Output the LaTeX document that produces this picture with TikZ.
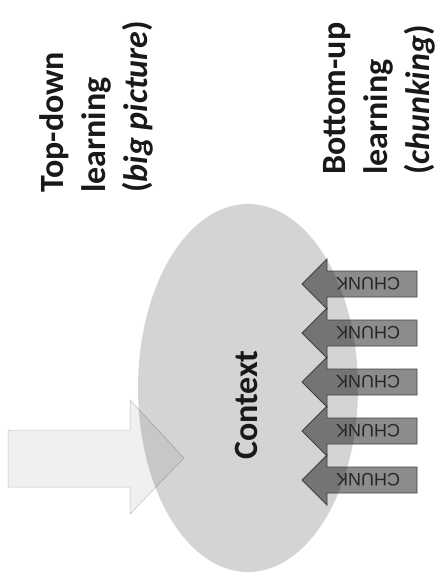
\documentclass[tikz,border=0pt]{standalone}
\usepackage{fontspec}
\usetikzlibrary{shapes.geometric}
\setmainfont{Carlito}
\newfontfamily\chunkfont{Liberation Sans}
\begin{document}
\begin{tikzpicture}[x=1pt,y=-1pt,
  label/.style={rotate=90,anchor=base west,inner sep=0pt,font=\fontsize{34}{40}\selectfont\bfseries,text=black!90},
  chunkshape/.style={fill=black,fill opacity=0.45,draw=black!75,line width=0.8pt,line join=miter},
  chunktext/.style={rotate=180,inner sep=0pt,font=\chunkfont\fontsize{18}{20}\selectfont,text=black!85},
  bigarrow/.style={fill=black!6,draw=black!25,line width=0.5pt},
  ctxshape/.style={ellipse,fill=black,fill opacity=0.17,draw=none,minimum width=220pt,minimum height=368pt,inner sep=0pt}
]
\useasboundingbox (0,0) rectangle (443,581);
% big top-down arrow
\draw[bigarrow] (8,430) -- (130,430) -- (130,400) -- (184,458) -- (130,514) -- (130,487) -- (8,487) -- cycle;
% context ellipse
\node[ctxshape] (ctx) at (248,388) {};
\node[rotate=90,inner sep=0pt,font=\fontsize{34}{40}\selectfont\bfseries,text=black!90] (ctxlabel) at (246,405) {Context};
% chunk arrows
\foreach \i/\y in {1/284,2/333,3/382,4/431,5/480}{
  \draw[chunkshape] (417,\y-13) -- (327,\y-13) -- (327,\y-25) -- (302,\y) -- (327,\y+25) -- (327,\y+13) -- (417,\y+13) -- cycle;
  \node[chunktext] (ck\i) at (368,\y) {CHUNK};
}
% labels
\node[label] (td1) at (63,193) {Top-down};
\node[label] (td2) at (105,193) {learning};
\node[label] (td3) at (147,193) {(\textit{big picture})};
\node[label] (bu1) at (345,175) {Bottom-up};
\node[label] (bu2) at (387,175) {learning};
\node[label] (bu3) at (429,175) {(\textit{chunking})};
\end{tikzpicture}
\end{document}
